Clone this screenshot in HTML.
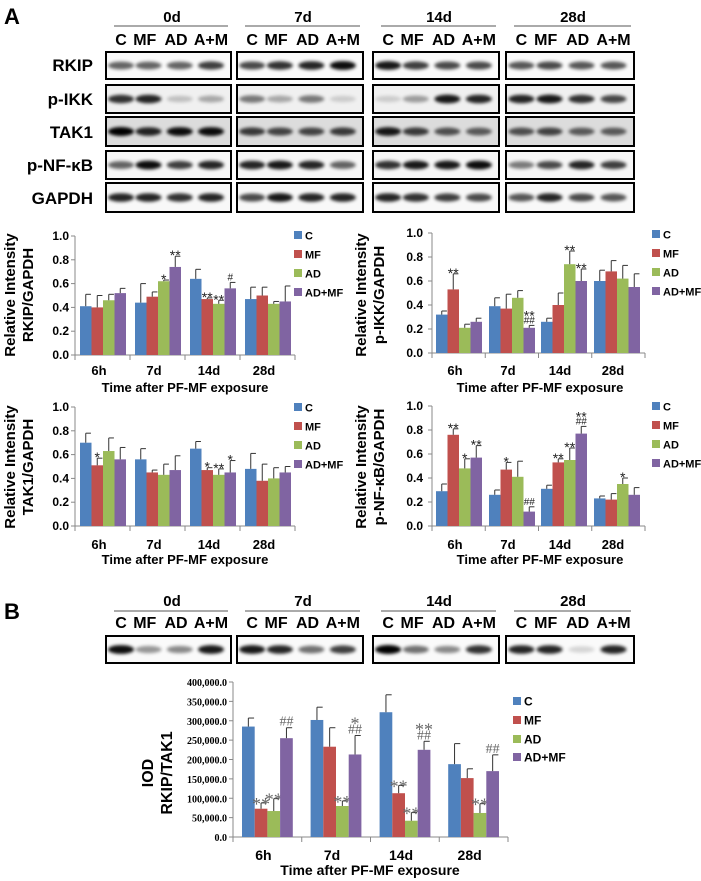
<!DOCTYPE html>
<html><head><meta charset="utf-8">
<style>
html,body{margin:0;padding:0;background:#fff;}
svg{display:block;font-family:"Liberation Sans",sans-serif;}
.b{font-weight:bold;}
</style></head>
<body>
<svg id="s" width="701" height="881" viewBox="0 0 701 881" xmlns="http://www.w3.org/2000/svg">
<defs>
<filter id="bl" x="-50%" y="-100%" width="200%" height="300%"><feGaussianBlur stdDeviation="1.6"/></filter>
</defs>
<rect width="701" height="881" fill="#fff"/>
<text x="4" y="24" class="b" font-size="22">A</text>
<text x="4" y="619" class="b" font-size="22">B</text>
<g class="b" font-size="17" text-anchor="end">
<text x="93" y="71">RKIP</text>
<text x="93" y="105">p-IKK</text>
<text x="93" y="138">TAK1</text>
<text x="93" y="171">p-NF-κB</text>
<text x="93" y="204">GAPDH</text>
</g>
<g class="b" font-size="15" text-anchor="middle">
<text x="172" y="22">0d</text><text x="303" y="22">7d</text><text x="439" y="22">14d</text><text x="573" y="22">28d</text>
<text x="172" y="606">0d</text><text x="303" y="606">7d</text><text x="439" y="606">14d</text><text x="573" y="606">28d</text>
</g>
<g id="lanes" class="b" font-size="16"></g>
<g id="blots"></g>
<g id="charts"></g>
</svg>
<script>
var NS="http://www.w3.org/2000/svg",S=document.getElementById('s');
function el(t,a,p,txt){var e=document.createElementNS(NS,t);for(var k in a)e.setAttribute(k,a[k]);if(txt!=null)e.textContent=txt;(p||S).appendChild(e);return e;}
var boxes=[[106,231],[237,363],[373,499],[506,634]];
var fr=[.12,.34,.59,.84];
var lanesG=document.getElementById('lanes');
function laneLabels(y,uy){boxes.forEach(function(b){var w=b[1]-b[0];
 el('line',{x1:b[0]+8,x2:b[1]-3,y1:uy,y2:uy,stroke:'#555','stroke-width':1});
 var labs=['C','MF','AD','A+M'],xs=[.12,.31,.56,.84];
 labs.forEach(function(l,i){el('text',{x:b[0]+w*xs[i],y:y,'text-anchor':'middle'},lanesG,l);});});}
laneLabels(45,26);laneLabels(628,611);
var blotsG=document.getElementById('blots');
var rows=[
 [52,79,'#fafafa',[[.6,.6,.6,.75],[.7,.8,.85,.95],[.9,.75,.7,.7],[.65,.7,.65,.65]]],
 [85,113,'#f0f0f0',[[.8,.85,.2,.3],[.5,.3,.5,.15],[.15,.35,.9,.85],[.85,.9,.8,.7]]],
 [117,146,'#dcdcdc',[[1,.85,.95,.95],[.75,.7,.7,.75],[.9,.75,.65,.6],[.65,.7,.6,.6]]],
 [151,179,'#f6f6f6',[[.6,.95,.75,.85],[.85,.9,.85,.6],[.8,.9,.9,.95],[.5,.7,.85,.75]]],
 [183,212,'#f8f8f8',[[.85,.85,.8,.85],[.7,.9,.85,.85],[.85,.8,.75,.7],[.65,.85,.7,.65]]],
 [636,663,'#fafafa',[[.95,.4,.45,.9],[.9,.85,.55,.75],[1,.55,.45,.8],[.85,.85,.15,.85]]]];
rows.forEach(function(r){boxes.forEach(function(b,bi){var w=b[1]-b[0];
 el('rect',{x:b[0],y:r[0],width:w,height:r[1]-r[0],fill:r[2]},blotsG);
 var cy=(r[0]+r[1])/2;
 r[3][bi].forEach(function(v,i){el('ellipse',{cx:b[0]+w*fr[i],cy:cy,rx:13,ry:3+v*1.5,fill:'#000','fill-opacity':v,filter:'url(#bl)'},blotsG);});
 el('rect',{x:b[0],y:r[0],width:w,height:r[1]-r[0],fill:'none',stroke:'#000','stroke-width':2},blotsG);});});
var C=['#4F81BD','#C0504D','#9BBB59','#8064A2'],G=document.getElementById('charts');
var cats=['6h','7d','14d','28d'],leg=['C','MF','AD','AD+MF'];
function chart(c){
 var sc=(c.y0-c.yt)/c.max;
 el('line',{x1:c.ax,x2:c.ax,y1:c.yt,y2:c.y0,stroke:'#888'},G);
 el('line',{x1:c.ax,x2:c.xe,y1:c.y0,y2:c.y0,stroke:'#888'},G);
 for(var i=0;i<=c.nt;i++){var v=c.max*i/c.nt,y=c.y0-v*sc;
  el('line',{x1:c.ax-4,x2:c.ax,y1:y,y2:y,stroke:'#888'},G);
  el('text',{x:c.tx,y:y+4,'text-anchor':'end','font-size':c.tf,'font-weight':'bold','font-family':c.serif?'"Liberation Serif",serif':'"Liberation Sans",sans-serif'},G,c.fmt(v));}
 var gw=(c.xe-c.ax)/4;
 for(var g=0;g<=4;g++){var x=c.ax+gw*g;el('line',{x1:x,x2:x,y1:c.y0,y2:c.y0+5,stroke:'#888'},G);}
 c.data.forEach(function(grp,gi){var cx=c.cx[gi],x0=cx-2*c.bw;
  el('text',{x:cx-4,y:c.xly,'text-anchor':'middle','font-size':c.xf,'font-weight':'bold'},G,cats[gi]);
  grp.forEach(function(d,i){var x=x0+i*c.bw,h=d[0]*sc,top=c.y0-h,et=c.y0-(d[0]+d[1])*sc,m=x+c.bw/2;
   el('rect',{x:x,y:top,width:c.bw,height:h,fill:C[i]},G);
   el('line',{x1:m,x2:m,y1:top,y2:et,stroke:'#333'},G);
   el('line',{x1:m,x2:m+c.bw*0.45,y1:et,y2:et,stroke:'#333'},G);
   if(d[2]){var ls=d[2].split(' ');var yy=et-2;
    for(var k=ls.length-1;k>=0;k--){var isStar=ls[k].indexOf('*')>=0;
     el('text',{x:m,y:yy+(isStar?c.sOff:0),'text-anchor':'middle','font-size':isStar?c.af:c.hf,fill:c.acol,'font-family':c.serif?'"Liberation Serif",serif':'"Liberation Sans",sans-serif'},G,ls[k]);yy-=c.lh;}}
  });});
 el('text',{x:c.tcx,y:c.tly,'text-anchor':'middle','font-size':c.xf,'font-weight':'bold'},G,'Time after PF-MF exposure');
 c.yl.forEach(function(t,i){el('text',{x:0,y:0,transform:'translate('+c.ylx[i]+','+c.ylc+') rotate(-90)','text-anchor':'middle','font-size':c.ylf,'font-weight':'bold'},G,t);});
 leg.forEach(function(t,i){var y=c.ly[i];el('rect',{x:c.lx,y:y-4,width:8,height:8,fill:C[i]},G);
  el('text',{x:c.lx+11,y:y+4.5,'font-size':c.lf,'font-weight':'bold'},G,t);});
}
function f1(v){return v.toFixed(1);}
var base={max:1,nt:5,tf:12,fmt:f1,bw:11.5,xf:13,af:14,hf:10,sOff:6,lh:9,acol:'#222',ylf:15,lf:11};
function mk(o){var r={};for(var k in base)r[k]=base[k];for(var k in o)r[k]=o[k];chart(r);}
var L={ax:75,xe:295,cx:[103,158,213,268],tx:69,tcx:185,lx:294,ylx:[15,33]};
var R={ax:432,xe:645,cx:[459,512,564,617],tx:423,tcx:540,lx:652,ylx:[366,384]};
function m(a,b){var r={};for(var k in a)r[k]=a[k];for(var k in b)r[k]=b[k];return r;}
mk(m(L,{y0:355,yt:236,xly:375,tly:392,ylc:295,ly:[235,254,273,292],yl:['Relative Intensity','RKIP/GAPDH'],
 data:[[[.41,.10],[.40,.10],[.46,.05],[.52,.04]],[[.44,.16],[.49,.04],[.62,.01,'*'],[.74,.09,'**']],[[.64,.08],[.47,.01,'**'],[.43,.03,'**'],[.56,.05,'#']],[[.47,.10],[.50,.07],[.43,.02],[.45,.13]]]}));
mk(m(R,{y0:353,yt:233,xly:375,tly:392,ylc:295,ly:[234,253,272,291],yl:['Relative Intensity','p-IKK/GAPDH'],
 data:[[[.32,.03],[.53,.13,'**'],[.21,.03],[.26,.03]],[[.39,.07],[.37,.12],[.46,.06],[.21,.02,'** ##']],[[.26,.03],[.40,.10],[.74,.11,'**'],[.60,.10,'**']],[[.60,.09],[.68,.09],[.62,.11],[.55,.11]]]}));
mk(m(L,{y0:526,yt:407,xly:549,tly:564,ylc:467,ly:[407,426,445,464],yl:['Relative Intensity','TAK1/GAPDH'],
 data:[[[.70,.08],[.51,.06,'*'],[.63,.11],[.56,.10]],[[.56,.09],[.45,.02],[.43,.09],[.47,.12]],[[.65,.06],[.47,.02,'*'],[.43,.05,'**'],[.45,.10,'*']],[[.48,.13],[.38,.14],[.40,.09],[.45,.05]]]}));
mk(m(R,{y0:526,yt:406,xly:549,tly:564,ylc:467,ly:[406,425,444,463],yl:['Relative Intensity','p-NF-κB/GAPDH'],
 data:[[[.29,.06],[.76,.05,'**'],[.48,.08,'*'],[.57,.10,'**']],[[.26,.04],[.47,.06,'*'],[.41,.13],[.12,.04,'##']],[[.31,.03],[.53,.03,'**'],[.55,.10,'**'],[.77,.06,'** ##']],[[.23,.02],[.22,.05],[.35,.05,'*'],[.26,.06]]]}));
mk({ax:233,xe:508,cx:[267.4,336,405,473.6],tx:227,tcx:370,lx:513,ylx:[153,172],y0:837,yt:682,max:400,nt:8,tf:10,serif:true,
 fmt:function(v){return (v*1000).toLocaleString('en-US')+'.0';},bw:12.7,xf:14,af:18,hf:14,sOff:9,lh:13,acol:'#666',
 xly:860,tly:875,ylc:773,ly:[701,720,739,757],lf:12,ylf:16,yl:['IOD','RKIP/TAK1'],
 data:[[[285,22],[73,15,'**'],[67,32,'**'],[255,27,'##']],[[302,33],[233,49],[80,13,'**'],[213,49,'* ##']],[[322,45],[113,20,'**'],[42,21,'**'],[225,22,'** ##']],[[188,53],[152,24],[62,24,'**'],[170,42,'##']]]});
</script>
</body></html>
